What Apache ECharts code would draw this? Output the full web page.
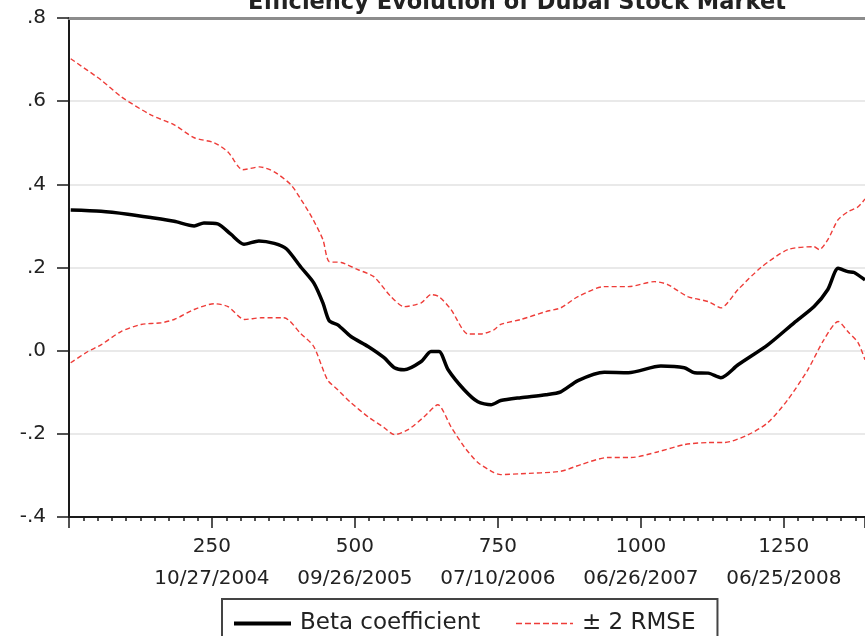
<!DOCTYPE html>
<html>
<head>
<meta charset="utf-8">
<script src="https://cdn.jsdelivr.net/npm/echarts@6/dist/echarts.min.js"></script>
<style>
  html, body { margin: 0; padding: 0; background: #fff; }
  #chart { width: 865px; height: 636px; }
</style>
</head>
<body>
<div id="chart"></div>
<script>
// Rolling beta estimate for the Dubai market, with its +/- 2 RMSE band.
const betaObs = [3, 56, 103, 143, 184, 219, 236, 260, 283, 306, 332, 359, 380, 406, 428, 444, 455, 470, 493, 523, 551, 569, 586, 616, 633, 647, 663, 691, 715, 738, 755, 790, 834, 860, 890, 936, 978, 1035, 1076, 1094, 1118, 1140, 1170, 1222, 1268, 1303, 1327, 1345, 1362, 1373, 1392];
const betaValues = [0.338, 0.335, 0.328, 0.320, 0.311, 0.300, 0.307, 0.305, 0.280, 0.256, 0.264, 0.258, 0.245, 0.200, 0.163, 0.115, 0.072, 0.062, 0.034, 0.010, -0.017, -0.041, -0.046, -0.026, -0.002, -0.002, -0.046, -0.094, -0.123, -0.130, -0.120, -0.113, -0.106, -0.099, -0.072, -0.052, -0.053, -0.037, -0.041, -0.053, -0.054, -0.065, -0.034, 0.014, 0.067, 0.106, 0.147, 0.198, 0.190, 0.188, 0.170];

const upperObs = [3, 56, 91, 143, 184, 219, 254, 278, 304, 333, 359, 388, 406, 425, 444, 455, 476, 505, 533, 563, 586, 616, 633, 647, 668, 698, 720, 743, 755, 790, 834, 860, 890, 936, 978, 1024, 1047, 1082, 1118, 1140, 1170, 1210, 1257, 1303, 1312, 1327, 1345, 1362, 1380, 1392];
const upperValues = [0.702, 0.651, 0.611, 0.567, 0.543, 0.512, 0.500, 0.478, 0.435, 0.442, 0.430, 0.399, 0.363, 0.320, 0.267, 0.214, 0.212, 0.195, 0.178, 0.130, 0.106, 0.115, 0.135, 0.130, 0.099, 0.040, 0.040, 0.050, 0.063, 0.075, 0.094, 0.103, 0.130, 0.154, 0.154, 0.166, 0.159, 0.130, 0.118, 0.103, 0.147, 0.200, 0.243, 0.250, 0.243, 0.267, 0.315, 0.334, 0.346, 0.365];

const lowerObs = [3, 33, 56, 91, 126, 161, 184, 219, 254, 278, 307, 336, 376, 406, 428, 452, 470, 493, 523, 551, 569, 593, 621, 645, 668, 691, 715, 743, 755, 790, 860, 895, 942, 983, 1030, 1076, 1118, 1146, 1188, 1222, 1257, 1292, 1320, 1345, 1362, 1380, 1392];
const lowerValues = [-0.029, -0.002, 0.014, 0.046, 0.063, 0.067, 0.075, 0.099, 0.113, 0.106, 0.075, 0.079, 0.079, 0.040, 0.010, -0.070, -0.094, -0.125, -0.159, -0.185, -0.202, -0.190, -0.159, -0.130, -0.183, -0.231, -0.269, -0.293, -0.298, -0.296, -0.290, -0.274, -0.257, -0.257, -0.243, -0.226, -0.221, -0.221, -0.202, -0.173, -0.118, -0.046, 0.026, 0.070, 0.046, 0.019, -0.022];

// Observation ticks and the trading dates printed under them
const tickObs = [250, 500, 750, 1000, 1250];
const tickDates = ['10/27/2004', '09/26/2005', '07/10/2006', '06/26/2007', '06/25/2008'];

const pairs = (xs, ys) => xs.map((x, i) => [x, ys[i]]);

const FONT = 'DejaVu Sans';
const RED = '#ee3c38';

const chart = echarts.init(document.getElementById('chart'), null, { renderer: 'canvas' });

chart.setOption({
  animation: false,
  backgroundColor: '#ffffff',
  title: {
    text: 'Efficiency Evolution of Dubai Stock Market',
    left: 512,
    textAlign: 'center',
    top: -13,
    textStyle: { fontFamily: FONT, fontSize: 22.5, fontWeight: 'bold', color: '#222' }
  },
  grid: { left: 69, right: 0, top: 18, bottom: 119, containLabel: false },
  legend: {
    data: [
      { name: 'Beta coefficient', lineStyle: { width: 4, color: '#000' } },
      { name: '± 2 RMSE', lineStyle: { width: 1.5, color: RED, type: [6, 3] } }
    ],
    left: 222,
    top: 599,
    orient: 'horizontal',
    itemWidth: 57,
    itemHeight: 14,
    itemGap: 35,
    padding: [13, 22, 30, 10],
    borderColor: '#444',
    borderWidth: 2,
    itemStyle: { opacity: 0 },
    textStyle: { fontFamily: FONT, fontSize: 23, color: '#222', padding: [0, 0, 0, 4] }
  },
  xAxis: [
    {
      type: 'value',
      min: 0,
      max: 1392,
      interval: 250,
      position: 'bottom',
      axisLine: { show: true, onZero: false, lineStyle: { color: '#1a1a1a', width: 2 } },
      axisTick: { show: true, length: 11, lineStyle: { color: '#1a1a1a', width: 1.5 } },
      minorTick: { show: true, splitNumber: 10, length: 4, lineStyle: { color: '#1a1a1a', width: 1.5 } },
      splitLine: { show: false },
      axisLabel: {
        showMinLabel: false,
        showMaxLabel: false,
        margin: 14,
        fontFamily: FONT,
        fontSize: 20,
        color: '#222',
        lineHeight: 32,
        formatter: (v) => {
          const i = tickObs.indexOf(v);
          return i < 0 ? '' : tickObs[i] + '\n' + tickDates[i];
        }
      }
    },
    {
      type: 'value',
      min: 0,
      max: 1392,
      position: 'top',
      axisLine: { show: true, onZero: false, lineStyle: { color: '#8c8c8c', width: 3 } },
      axisTick: { show: false },
      axisLabel: { show: false },
      splitLine: { show: false }
    }
  ],
  yAxis: {
    type: 'value',
    min: -0.4,
    max: 0.8,
    interval: 0.2,
    axisLine: { show: true, onZero: false, lineStyle: { color: '#1a1a1a', width: 2 } },
    axisTick: { show: true, length: 12, lineStyle: { color: '#1a1a1a', width: 1.5 } },
    splitLine: { show: true, lineStyle: { color: '#e2e2e2', width: 1.5 } },
    axisLabel: {
      margin: 23,
      fontFamily: FONT,
      fontSize: 20,
      color: '#222',
      formatter: (v) => v.toFixed(1).replace('0.', '.')
    }
  },
  series: [
    {
      name: '± 2 RMSE',
      type: 'line',
      data: pairs(upperObs, upperValues),
      symbol: 'none',
      smooth: 0.25,
      color: RED,
      lineStyle: { color: RED, width: 1.4, type: [5, 3] }
    },
    {
      name: '± 2 RMSE',
      type: 'line',
      data: pairs(lowerObs, lowerValues),
      symbol: 'none',
      smooth: 0.25,
      color: RED,
      lineStyle: { color: RED, width: 1.4, type: [5, 3] }
    },
    {
      name: 'Beta coefficient',
      type: 'line',
      data: pairs(betaObs, betaValues),
      symbol: 'none',
      smooth: 0.25,
      color: '#000',
      lineStyle: { color: '#000', width: 3.5 }
    }
  ]
});
</script>
</body>
</html>
